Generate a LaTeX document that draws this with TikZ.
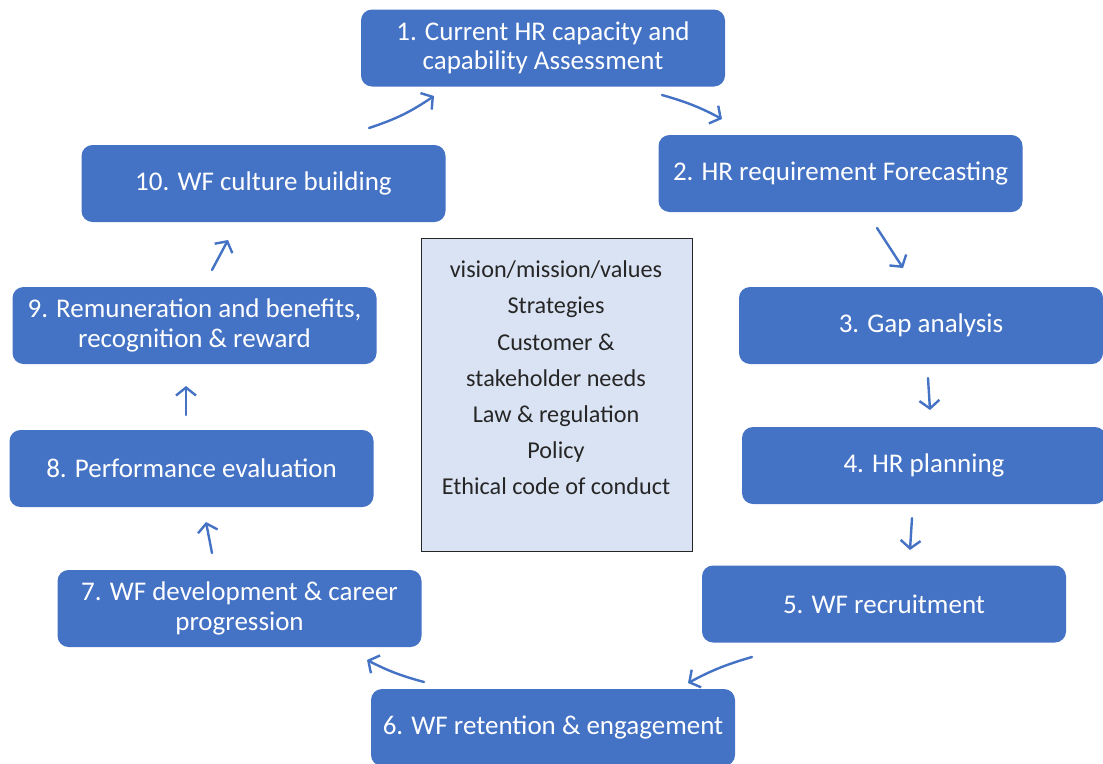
\documentclass[tikz,border=0pt]{standalone}
\usepackage{fontspec}
\setmainfont{Carlito}
\usetikzlibrary{arrows.meta}
\definecolor{stepblue}{HTML}{4472C4}
\definecolor{corefill}{HTML}{DAE3F3}
\definecolor{coretext}{HTML}{262626}
\tikzset{
  stepbox/.style={fill=stepblue, rounded corners=11pt, minimum width=364pt, minimum height=77pt,
    text=white, align=center, inner sep=0pt,
    font=\fontsize{27}{29.5}\selectfont},
  corebox/.style={fill=corefill, draw=coretext, line width=1pt, minimum width=271pt, minimum height=313pt, inner sep=0pt},
  coretxt/.style={text=coretext, align=center, font=\fontsize{24.2}{36.2}\selectfont},
  flow/.style={draw=stepblue, line width=2.4pt, line cap=round,
    -{Straight Barb[length=8pt, width=20pt, line width=2.4pt]}}
}
\begin{document}
\begin{tikzpicture}[x=1pt, y=-1pt]
\useasboundingbox (0,0) rectangle (1103,763);
\clip (0,0) rectangle (1103,763);

% process steps
\node[stepbox] (s1) at (543,48) {1. Current HR capacity and\\capability Assessment};
\node[stepbox] (s2) at (840.5,173.5) {2. HR requirement Forecasting};
\node[stepbox] (s3) at (921,325.5) {3. Gap analysis};
\node[stepbox] (s4) at (924,465.5) {4. HR planning};
\node[stepbox] (s5) at (884,604) {5. WF recruitment};
\node[stepbox] (s6) at (553,727.5) {6. WF retention \& engagement};
\node[stepbox] (s7) at (239.5,608.5) {7. WF development \& career\\progression};
\node[stepbox] (s8) at (191.5,468.5) {8. Performance evaluation};
\node[stepbox] (s9) at (194.5,325.5) {9. Remuneration and benefits,\\recognition \& reward};
\node[stepbox] (s10) at (263.5,183.5) {10. WF culture building};

% central drivers
\node[corebox] (core) at (556.5,394.5) {};
\node[coretxt] (coretext) at (556,378) {vision/mission/values\\Strategies\\Customer \&\\stakeholder needs\\Law \& regulation\\Policy\\Ethical code of conduct};

% arrow end points between steps
\coordinate (a1s) at (369,128);  \coordinate (a1e) at (434,96);
\coordinate (a2s) at (662,95);   \coordinate (a2e) at (722,119);
\coordinate (a3s) at (877,228);  \coordinate (a3e) at (903,268);
\coordinate (a4s) at (928,378);  \coordinate (a4e) at (930,410);
\coordinate (a5s) at (912,518);  \coordinate (a5e) at (910,550);
\coordinate (a6s) at (752,657);  \coordinate (a6e) at (688,683);
\coordinate (a7s) at (424,682);  \coordinate (a7e) at (367,660);
\coordinate (a8s) at (212,553);  \coordinate (a8e) at (206,522);
\coordinate (a9s) at (186,415);  \coordinate (a9e) at (186,386);
\coordinate (a10s) at (212,270); \coordinate (a10e) at (228,240);

\draw[flow] (a1s) to[bend right=8] (a1e);
\draw[flow] (a2s) to[bend left=6] (a2e);
\draw[flow] (a3s) -- (a3e);
\draw[flow] (a4s) -- (a4e);
\draw[flow] (a5s) -- (a5e);
\draw[flow] (a6s) to[bend right=6] (a6e);
\draw[flow] (a7s) to[bend left=6] (a7e);
\draw[flow] (a8s) -- (a8e);
\draw[flow] (a9s) -- (a9e);
\draw[flow] (a10s) -- (a10e);
\end{tikzpicture}
\end{document}
